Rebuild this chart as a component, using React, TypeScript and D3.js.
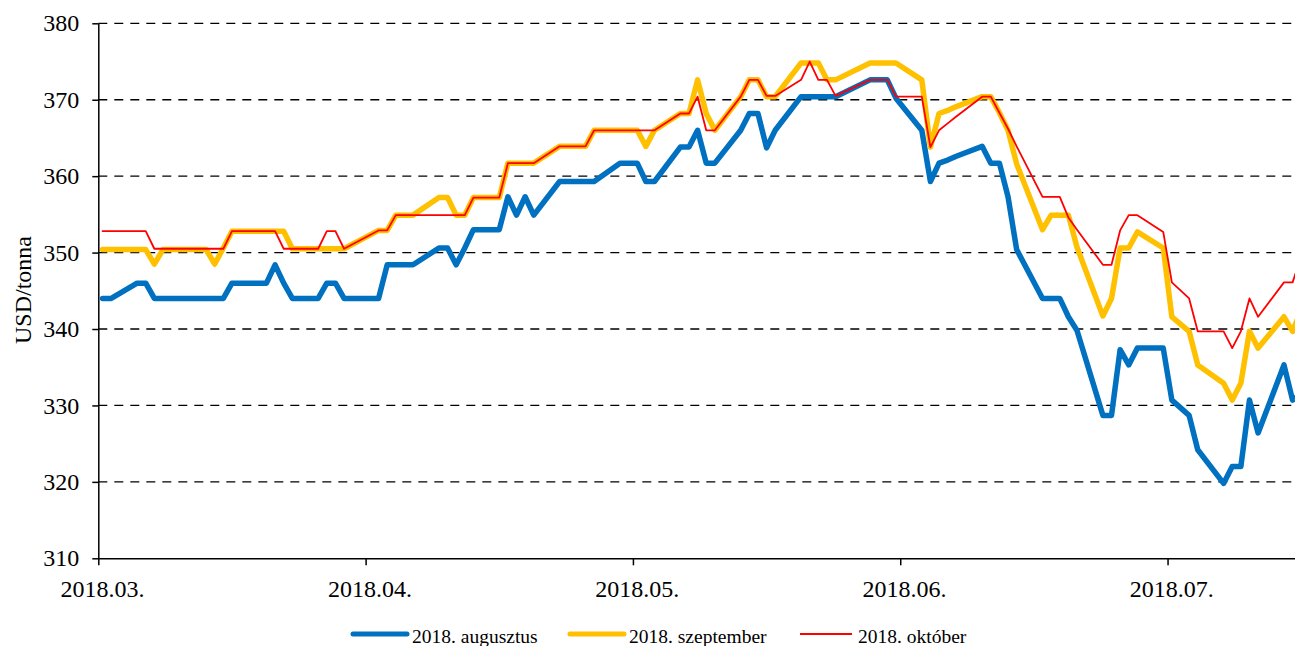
import React, { useEffect, useRef } from "react";
import * as d3 from "d3";

// trading days of 2018 (MM-DD), one row per week
const days = [
  "03-01", "03-02",
  "03-05", "03-06", "03-07", "03-08", "03-09",
  "03-12", "03-13", "03-14", "03-15", "03-16",
  "03-19", "03-20", "03-21", "03-22", "03-23",
  "03-26", "03-27", "03-28", "03-29",
  "04-02", "04-03", "04-04", "04-05", "04-06",
  "04-09", "04-10", "04-11", "04-12", "04-13",
  "04-16", "04-17", "04-18", "04-19", "04-20",
  "04-23", "04-24", "04-25", "04-26", "04-27",
  "04-30", "05-01", "05-02", "05-03", "05-04",
  "05-07", "05-08", "05-09", "05-10", "05-11",
  "05-14", "05-15", "05-16", "05-17", "05-18",
  "05-21", "05-22", "05-23", "05-24", "05-25",
  "05-29", "05-30", "05-31", "06-01",
  "06-04", "06-05", "06-06", "06-07", "06-08",
  "06-11", "06-12", "06-13", "06-14", "06-15",
  "06-18", "06-19", "06-20", "06-21", "06-22",
  "06-25", "06-26", "06-27", "06-28", "06-29",
  "07-02", "07-03", "07-05", "07-06",
  "07-09", "07-10", "07-11", "07-12", "07-13",
  "07-16", "07-17", "07-18",
];

const augusztus = [
  344.0, 344.0,
  346.0, 346.0, 344.0, 344.0, 344.0,
  344.0, 344.0, 344.0, 344.0, 346.0,
  346.0, 346.0, 348.4, 346.0, 344.0,
  344.0, 346.0, 346.0, 344.0,
  344.0, 348.4, 348.4, 348.4, 348.4,
  350.6, 350.6, 348.4, 350.6, 353.0,
  353.0, 357.3, 354.9, 357.3, 354.9,
  359.3, 359.3, 359.3, 359.3, 359.3,
  361.7, 361.7, 361.7, 359.3, 359.3,
  363.8, 363.8, 366.0, 361.7, 361.7,
  366.0, 368.2, 368.2, 363.7, 366.0,
  370.4, 370.4, 370.4, 370.4, 370.4,
  372.6, 372.6, 372.6, 370.2,
  366.0, 359.3, 361.7, 362.1, 362.6,
  363.9, 361.7, 361.7, 357.3, 350.4,
  344.0, 344.0, 344.0, 341.6, 339.8,
  328.7, 328.7, 337.3, 335.3, 337.5,
  337.5, 330.7, 328.7, 324.2,
  319.8, 322.0, 322.0, 330.7, 326.4,
  335.3, 330.7, 331.5,
];

const szeptember = [
  350.4, 350.4,
  350.4, 350.4, 348.5, 350.4, 350.4,
  350.4, 350.4, 348.5, 350.6, 352.8,
  352.8, 352.8, 352.8, 352.8, 350.5,
  350.5, 350.5, 350.5, 350.5,
  352.9, 352.9, 354.9, 354.9, 354.9,
  357.2, 357.2, 354.9, 354.9, 357.2,
  357.2, 361.7, 361.7, 361.7, 361.7,
  363.9, 363.9, 363.9, 363.9, 366.0,
  366.0, 366.0, 366.0, 363.9, 366.0,
  368.2, 368.2, 372.6, 368.2, 366.0,
  370.4, 372.6, 372.6, 370.4, 370.4,
  374.8, 374.8, 374.8, 372.6, 372.6,
  374.8, 374.8, 374.8, 374.8,
  372.6, 363.8, 368.2, 368.6, 369.1,
  370.4, 370.4, 368.3, 366.0, 361.6,
  353.0, 354.9, 354.9, 354.9, 350.7,
  341.7, 344.0, 350.6, 350.6, 352.7,
  350.6, 341.6, 339.7, 335.3,
  332.9, 330.7, 332.9, 339.7, 337.5,
  341.6, 339.7, 342.5,
];

const oktober = [
  352.8, 352.8,
  352.8, 352.8, 350.5, 350.5, 350.5,
  350.5, 350.5, 350.5, 350.5, 352.8,
  352.8, 352.8, 352.8, 350.5, 350.5,
  350.5, 352.8, 352.8, 350.5,
  352.9, 352.9, 354.9, 354.9, 354.9,
  354.9, 354.9, 354.9, 354.9, 357.2,
  357.2, 361.7, 361.7, 361.7, 361.7,
  363.9, 363.9, 363.9, 363.9, 366.0,
  366.0, 366.0, 366.0, 366.0, 366.0,
  368.2, 368.2, 370.4, 366.0, 366.0,
  370.4, 372.6, 372.6, 370.5, 370.5,
  372.6, 375.0, 372.6, 372.6, 370.5,
  372.6, 372.6, 372.6, 370.4,
  370.4, 363.8, 366.0, 366.9, 367.8,
  370.4, 370.4, 368.3, 366.2, 363.9,
  357.3, 357.3, 357.3, 354.6, 353.0,
  348.4, 348.4, 352.9, 354.9, 354.9,
  352.7, 346.1, 344.0, 339.7,
  339.7, 337.5, 339.7, 344.0, 341.6,
  346.1, 346.1, 349.5,
];

const seriesNames = ["2018. augusztus", "2018. szeptember", "2018. október"];
const yTicks = [310, 320, 330, 340, 350, 360, 370, 380];

const FONT = "'Liberation Serif', 'Times New Roman', serif";

export default function App() {
  // DOM ref for d3
  const svgRef = useRef<SVGSVGElement>(null);

  useEffect(() => {
    const svg = d3.select(svgRef.current);
    svg.selectAll("*").remove();

    // one category slot per calendar day, ticks every 31 slots
    const start = new Date(Date.UTC(2018, 2, 1));
    const nSlots = 140;
    const slot = 8.623;
    const left = 98.3;
    const x = d3.scaleUtc()
      .domain([start, d3.utcDay.offset(start, nSlots)])
      .range([left, left + nSlots * slot]);
    const y = d3.scaleLinear().domain([310, 380]).range([558.3, 23.3]);
    const right = x.range()[1];

    const parse = (s: string) => {
      const [m, d] = s.split("-").map(Number);
      return new Date(Date.UTC(2018, m - 1, d, 12));
    };
    const dates = days.map(parse);

    // dashed grid
    svg.append("g")
      .selectAll("line")
      .data(yTicks.filter(v => v > 310))
      .enter().append("line")
      .attr("x1", left)
      .attr("x2", right)
      .attr("y1", d => y(d))
      .attr("y2", d => y(d))
      .attr("stroke", "#000")
      .attr("stroke-width", 1.3)
      .attr("stroke-dasharray", "9,7");

    // series lines
    const line = d3.line<number>()
      .x((_, i) => x(dates[i]))
      .y(d => y(d));

    const series = [
      { values: augusztus, color: "#0070C0", width: 5.5 },
      { values: szeptember, color: "#FFC000", width: 5.5 },
      { values: oktober, color: "#FF0000", width: 1.8 },
    ];

    svg.append("g")
      .selectAll("path")
      .data(series)
      .enter().append("path")
      .attr("d", d => line(d.values))
      .attr("fill", "none")
      .attr("stroke", d => d.color)
      .attr("stroke-width", d => d.width)
      .attr("stroke-linejoin", "round")
      .attr("stroke-linecap", "round");

    // Y axis
    const yAxis = svg.append("g")
      .attr("transform", "translate(" + left + ",0)")
      .call(d3.axisLeft(y).tickValues(yTicks).tickSize(6).tickSizeOuter(0).tickPadding(13));
    yAxis.select(".domain").attr("stroke-width", 1.5);
    yAxis.selectAll(".tick line").attr("stroke-width", 1.5);
    yAxis.selectAll("text")
      .attr("font-family", FONT)
      .attr("font-size", 24)
      .attr("fill", "#000");

    // X axis
    const tickDates = d3.range(0, nSlots, 31).map(k => d3.utcDay.offset(start, k));
    const xAxis = svg.append("g")
      .attr("transform", "translate(0," + y(310) + ")")
      .call(d3.axisBottom(x).tickValues(tickDates).tickSize(7).tickSizeOuter(0).tickFormat(() => ""));
    xAxis.select(".domain").attr("stroke-width", 1.5);
    xAxis.selectAll(".tick line").attr("stroke-width", 1.5);

    const fmt = d3.utcFormat("%Y.%m.");
    svg.append("g")
      .selectAll("text")
      .data(tickDates)
      .enter().append("text")
      .attr("x", d => x(d3.utcHour.offset(d, 12)))
      .attr("y", 596.5)
      .attr("text-anchor", "middle")
      .attr("font-family", FONT)
      .attr("font-size", 24)
      .text(d => fmt(d));

    // Y title
    svg.append("text")
      .attr("transform", "translate(31,290) rotate(-90)")
      .attr("text-anchor", "middle")
      .attr("font-family", FONT)
      .attr("font-size", 24)
      .text("USD/tonna");

    // legend
    const legendX = [353, 570, 800];
    const legend = svg.append("g")
      .selectAll("g")
      .data(series)
      .enter().append("g")
      .attr("transform", (_, i) => "translate(" + legendX[i] + ",634)");
    legend.append("line")
      .attr("x1", 0)
      .attr("x2", (_, i) => (i === 2 ? 52 : 54))
      .attr("stroke", d => d.color)
      .attr("stroke-width", d => (d.width > 2 ? 5 : 2))
      .attr("stroke-linecap", (_, i) => (i === 2 ? "butt" : "round"));
    legend.append("text")
      .attr("x", (_, i) => (i === 2 ? 58 : 59))
      .attr("y", 9)
      .attr("font-family", FONT)
      .attr("font-size", 19.5)
      .text((_, i) => seriesNames[i]);
  }, []);

  return (
    <svg
      ref={svgRef}
      width={1295}
      height={646}
      style={{ position: "absolute", left: 0, top: 0, background: "#fff" }}
    />
  );
}
